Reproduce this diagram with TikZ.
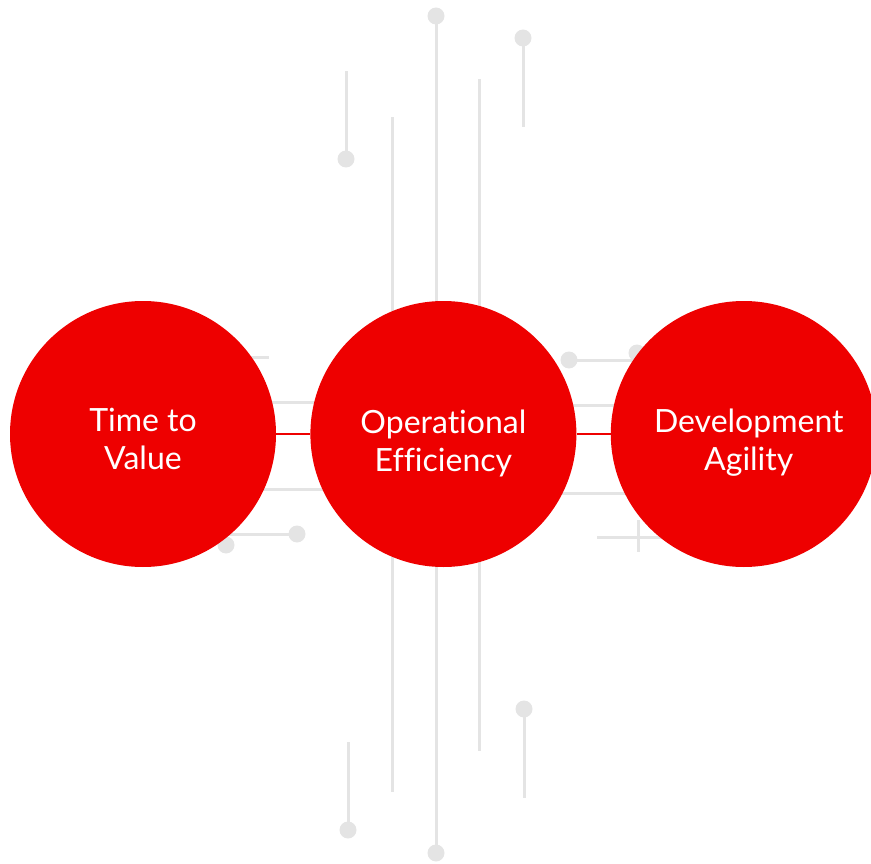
\documentclass[tikz,border=0pt]{standalone}
\usepackage{fontspec}
\setmainfont{Lato}[Ligatures=NoCommon]
\usepackage{tikz}
\usetikzlibrary{positioning}
\definecolor{rhred}{HTML}{EE0000}
\definecolor{trace}{HTML}{E4E4E4}

\begin{document}
\begin{tikzpicture}[
  x=1pt, y=-1pt,
  font=\fontsize{32}{38}\selectfont,
  bubble/.style={circle, fill=rhred, minimum size=266pt, inner sep=0pt},
  caption/.style={text=white, align=center, inner sep=0pt},
  wire/.style={draw=trace, line width=3pt},
  pin/.style={fill=trace},
  link/.style={draw=rhred, line width=2pt}
]
\useasboundingbox (0,0) rectangle (871,864);

% Vertical traces
\draw[wire] (346,71) -- (346,159);
\fill[pin] (346,159) circle (8.5);
\draw[wire] (392,117) -- (392,792);
\draw[wire] (436,16) -- (436,853);
\fill[pin] (436,16) circle (8.5);
\fill[pin] (436,853) circle (8.5);
\draw[wire] (479,79) -- (479,751);
\draw[wire] (523,38) -- (523,127);
\fill[pin] (523,38) circle (8.5);
\draw[wire] (348,742) -- (348,830);
\fill[pin] (348,830) circle (8.5);
\draw[wire] (524,709) -- (524,798);
\fill[pin] (524,709) circle (8.5);

% Horizontal traces
\draw[wire] (200,357) -- (269,357);
\draw[wire] (200,402) -- (360,402);
\draw[wire] (200,489) -- (360,489);
\draw[wire] (226,534) -- (297,534);
\fill[pin] (297,534) circle (8.5);
\fill[pin] (226,545) circle (8.5);
\draw[wire] (569,360) -- (637,360);
\fill[pin] (569,360) circle (8.5);
\fill[pin] (637,353) circle (8.5);
\draw[wire] (520,405) -- (660,405);
\draw[wire] (520,493) -- (660,493);
\draw[wire] (597,537) -- (680,537);
\draw[wire] (638,520) -- (638,552);

% Circles
\node[bubble] (value) at (143,434) {};
\node[bubble, right=34pt of value] (ops) {};
\node[bubble, right=34pt of ops] (dev) {};

% Links
\draw[link] (value) -- (ops);
\draw[link] (ops) -- (dev);

% Labels
\node[caption] (valuetxt) at ([yshift=-5pt]value.center) {Time to\\Value};
\node[caption] (opstxt) at ([yshift=-9pt]ops.center) {Operational\\Efficiency};
\node[caption] (devtxt) at ([xshift=5pt, yshift=-9pt]dev.center) {Development\\Agility};

\end{tikzpicture}
\end{document}
